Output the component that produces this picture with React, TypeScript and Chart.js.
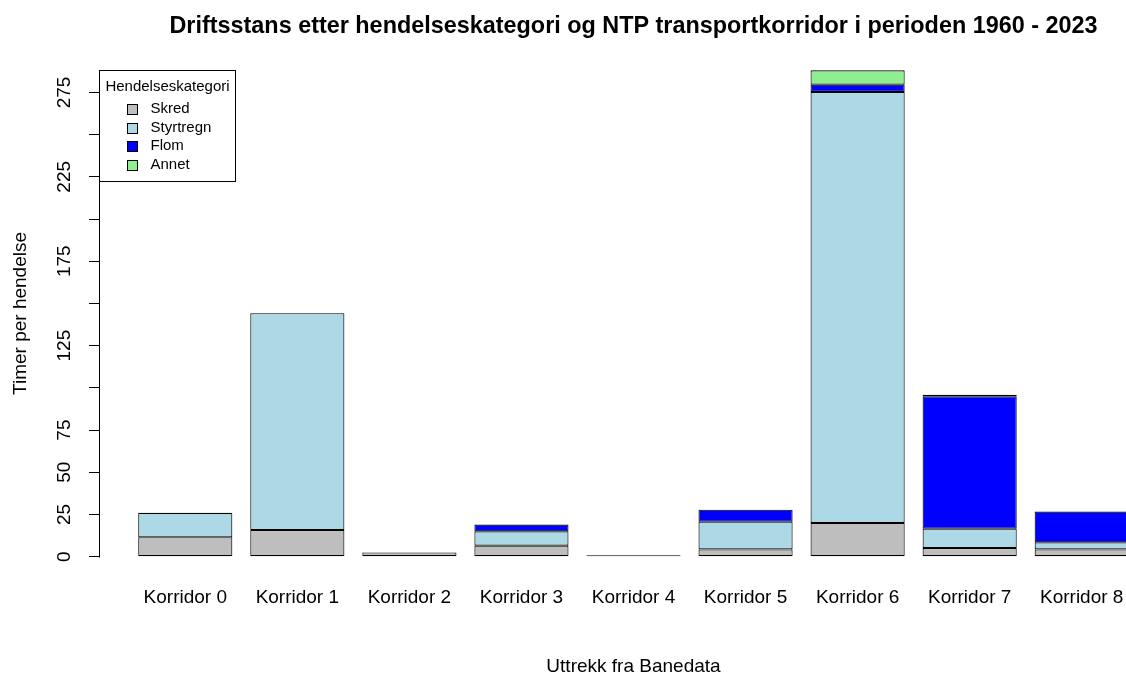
import React, { useEffect, useRef } from 'react';
import { Chart, registerables } from 'chart.js';

Chart.register(...registerables);

const categories = ['Korridor 0', 'Korridor 1', 'Korridor 2', 'Korridor 3', 'Korridor 4', 'Korridor 5', 'Korridor 6', 'Korridor 7', 'Korridor 8'];
const skred = [11.5, 15.8, 2.5, 6.5, 0.8, 4.3, 20.0, 5.1, 4.3];
const styrtregn = [14.5, 128.4, 0, 8.5, 0, 16.4, 255.3, 11.5, 4.2];
const flom = [0, 0, 0, 4.0, 0, 7.1, 4.3, 78.4, 18.2];
const annet = [0, 0, 0, 0, 0, 0, 8.5, 0.9, 0];
const seriesNames = ['Skred', 'Styrtregn', 'Flom', 'Annet'];
const seriesColors = ['#BEBEBE', '#ADD8E6', '#0000FF', '#90EE90'];
const yTickValues = [0, 25, 50, 75, 100, 125, 150, 175, 200, 225, 250, 275];
const yTickLabels = ['0', '25', '50', '75', '', '125', '', '175', '', '225', '', '275'];

const titleText = 'Driftsstans etter hendelseskategori og NTP transportkorridor i perioden 1960 - 2023';
const xTitle = 'Uttrekk fra Banedata';
const yTitle = 'Timer per hendelse';
const legendTitle = 'Hendelseskategori';

const FAMILY = '"Liberation Sans", Arial, Helvetica, sans-serif';
const CANVAS_W = 1168;
const CANVAS_H = 680;

const rExtras = {
  id: 'rExtras',
  afterDraw(chart: any) {
    const { ctx, chartArea, scales } = chart;
    const ys = scales.y;
    ctx.save();
    // y axis line from first to last tick (R style)
    const ax = Math.round(chartArea.left) + 0.5;
    ctx.strokeStyle = '#000';
    ctx.lineWidth = 1;
    ctx.beginPath();
    ctx.moveTo(ax, Math.round(ys.getPixelForValue(yTickValues[0])) + 0.5);
    ctx.lineTo(ax, Math.round(ys.getPixelForValue(yTickValues[yTickValues.length - 1])) + 0.5);
    ctx.stroke();

    // legend box
    const lx = ax;
    const ly = Math.round(chartArea.top + 19) + 0.5;
    const lw = 136;
    const lh = 111;
    ctx.fillStyle = '#fff';
    ctx.fillRect(lx, ly, lw, lh);
    ctx.strokeRect(lx, ly, lw, lh);
    ctx.fillStyle = '#000';
    ctx.font = `15px ${FAMILY}`;
    ctx.textAlign = 'center';
    ctx.textBaseline = 'middle';
    ctx.fillText(legendTitle, lx + lw / 2, ly + 16);
    ctx.textAlign = 'left';
    chart.data.datasets.forEach((ds: any, i: number) => {
      const cy = ly + 38.5 + i * 18.6;
      ctx.fillStyle = ds.backgroundColor;
      ctx.fillRect(lx + 28, Math.round(cy - 5) + 0.5, 10, 10);
      ctx.strokeStyle = '#000';
      ctx.strokeRect(lx + 28, Math.round(cy - 5) + 0.5, 10, 10);
      ctx.fillStyle = '#000';
      ctx.fillText(ds.label, lx + 51, cy);
    });
    ctx.restore();
  },
};

export default function App() {
  const ref = useRef<HTMLCanvasElement>(null);

  useEffect(() => {
    if (!ref.current) return;
    const series = [skred, styrtregn, flom, annet];
    const chart = new Chart(ref.current, {
      type: 'bar',
      data: {
        datasets: series.map((vals, s) => ({
          label: seriesNames[s],
          data: categories.map((_, i) => ({ x: i, y: vals[i] })),
          backgroundColor: seriesColors[s],
          borderColor: '#000',
          borderWidth: 1.1,
          borderSkipped: false,
          categoryPercentage: 1,
          barPercentage: 0.84,
        })),
      },
      options: {
        animation: false,
        responsive: false,
        devicePixelRatio: 1,
        layout: { padding: 0 },
        plugins: {
          legend: { display: false },
          tooltip: { enabled: false },
          title: {
            display: true,
            text: titleText,
            fullSize: false,
            color: '#000',
            font: { size: 23.4, weight: 'bold', family: FAMILY, lineHeight: 1.2 },
            padding: { top: 12.2, bottom: 10.6 },
          },
        },
        scales: {
          x: {
            type: 'linear',
            stacked: true,
            min: -0.77,
            max: 8.77,
            offset: false,
            afterBuildTicks: (s: any) => {
              s.ticks = categories.map((_, i) => ({ value: i }));
            },
            afterFit: (s: any) => {
              s.height = CANVAS_H - 576.1;
            },
            grid: { display: false },
            border: { display: false },
            ticks: {
              autoSkip: false,
              minRotation: 0,
              maxRotation: 0,
              padding: 2.6,
              color: '#000',
              font: { size: 19, family: FAMILY, lineHeight: 1.2 },
              callback: (v: any) => categories[v] ?? '',
            },
            title: {
              display: true,
              text: xTitle,
              color: '#000',
              font: { size: 19, family: FAMILY, lineHeight: 1.2 },
              padding: { top: 0, bottom: 1.8 },
            },
          },
          y: {
            type: 'linear',
            stacked: true,
            min: -11.5,
            max: 299.6,
            afterBuildTicks: (s: any) => {
              s.ticks = yTickValues.map((v) => ({ value: v }));
            },
            afterFit: (s: any) => {
              s.width = 99;
            },
            border: { display: false },
            grid: {
              display: true,
              drawOnChartArea: false,
              drawTicks: true,
              tickLength: 10,
              color: '#000',
              tickColor: '#000',
              lineWidth: 1,
            },
            ticks: {
              autoSkip: false,
              minRotation: 90,
              maxRotation: 90,
              crossAlign: 'center',
              padding: 8.65,
              color: '#000',
              font: { size: 19, family: FAMILY, lineHeight: 1.2 },
              callback: (v: any) => {
                const k = yTickValues.indexOf(v);
                return k >= 0 ? yTickLabels[k] : '';
              },
            },
            title: {
              display: true,
              text: yTitle,
              color: '#000',
              font: { size: 19, family: FAMILY, lineHeight: 1.2 },
              padding: { top: 9.5, bottom: 0 },
            },
          },
        },
      } as any,
      plugins: [rExtras],
    });
    return () => chart.destroy();
  }, []);

  return (
    <div
      style={{
        position: 'fixed',
        left: 0,
        top: 0,
        width: 1126,
        height: 673,
        overflow: 'hidden',
        background: '#fff',
      }}
    >
      <canvas
        ref={ref}
        width={CANVAS_W}
        height={CANVAS_H}
        style={{ display: 'block', width: CANVAS_W, height: CANVAS_H }}
      />
    </div>
  );
}
